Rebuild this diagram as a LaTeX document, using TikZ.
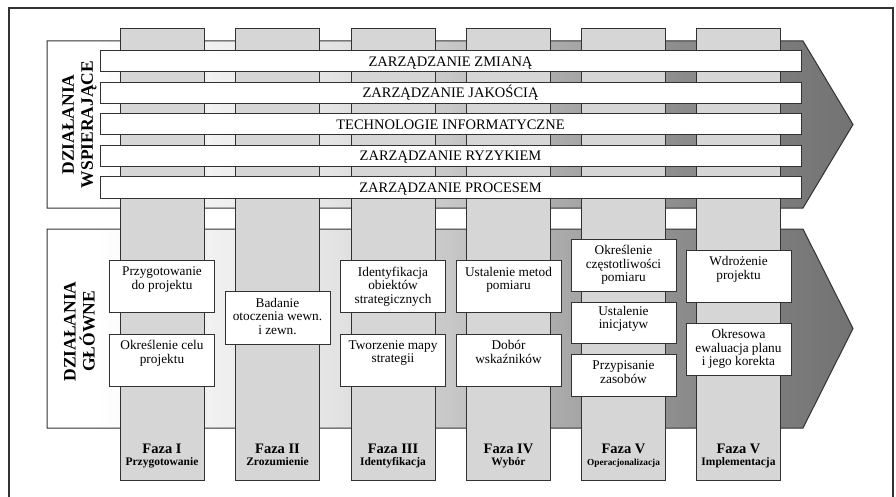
\documentclass[tikz,border=0pt]{standalone}
\usepackage{fontspec}
\setmainfont{Liberation Serif}
\usetikzlibrary{calc}
\definecolor{colfill}{RGB}{214,214,214}
\definecolor{edge}{RGB}{50,50,50}
\pgfdeclarehorizontalshading{arrowshade}{100bp}{color(0bp)=(white); color(28bp)=(white); color(35.7bp)=(black!6); color(42.9bp)=(black!11); color(50bp)=(black!22); color(57.2bp)=(black!34); color(64.3bp)=(black!45); color(71bp)=(black!52); color(75bp)=(black!55); color(100bp)=(black!55)}
\tikzset{
  x=1pt, y=-1pt,
  frame/.style={draw=edge, line width=1.1pt},
  arrowbody/.style={draw=edge, line width=1pt, shading=arrowshade},
  col/.style={draw=edge, fill=colfill, line width=1pt, minimum width=84pt, minimum height=451pt, inner sep=0pt},
  band/.style={draw=edge, fill=white, line width=1pt, minimum width=701pt, minimum height=21pt, inner sep=0pt},
  bandtext/.style={anchor=base, inner sep=0pt, font=\fontsize{14.5}{16}\selectfont},
  box/.style={draw=edge, fill=white, line width=1pt, minimum width=105pt, inner sep=0pt},
  btext/.style={anchor=north, inner sep=0pt, align=center, font=\fontsize{13.3}{13.6}\selectfont},
  side/.style={rotate=90, align=center, inner sep=0pt, font=\bfseries\fontsize{17.5}{19}\selectfont},
  phase/.style={anchor=base, inner sep=0pt, font=\bfseries\fontsize{14.5}{16}\selectfont},
  phasesub/.style={anchor=base, inner sep=0pt, font=\bfseries\fontsize{11.5}{13}\selectfont},
}
\begin{document}
\begin{tikzpicture}
\useasboundingbox (0,0) rectangle (896,497);
\fill[white] (0,0) rectangle (896,497);
% frame
\draw[frame] (9,497) -- (9,8) -- (893,8) -- (893,497);
% arrows
\draw[arrowbody] (47,41) -- (803,41) -- (853,124.5) -- (803,208) -- (47,208) -- cycle;
\draw[arrowbody] (47,229) -- (803,229) -- (853,328.5) -- (803,428) -- (47,428) -- cycle;
% columns
\node[col] (c1) at (162,254.5) {};
\node[col] (c2) at (277.5,254.5) {};
\node[col] (c3) at (393,254.5) {};
\node[col] (c4) at (508.5,254.5) {};
\node[col] (c5) at (623.5,254.5) {};
\node[col] (c6) at (738.5,254.5) {};
% bands
\node[band] (z1) at (450.5,61.5) {};
\node[band] (z2) at (450.5,93) {};
\node[band] (z3) at (450.5,124.5) {};
\node[band] (z4) at (450.5,156) {};
\node[band] (z5) at (450.5,187.5) {};
\node[bandtext] (z1t) at (450.5,66.3) {ZARZĄDZANIE ZMIANĄ};
\node[bandtext] (z2t) at (450.5,97.8) {ZARZĄDZANIE JAKOŚCIĄ};
\node[bandtext] (z3t) at (450.5,129.3) {TECHNOLOGIE INFORMATYCZNE};
\node[bandtext] (z4t) at (450.5,160.8) {ZARZĄDZANIE RYZYKIEM};
\node[bandtext] (z5t) at (450.5,192.3) {ZARZĄDZANIE PROCESEM};
% side labels
\node[side] (ws) at (79.5,124.5) {DZIAŁANIA\\WSPIERAJĄCE};
\node[side] (gl) at (79.5,331.5) {DZIAŁANIA\\GŁÓWNE};
% boxes
\node[box, minimum height=52pt] (b1a) at (162,286.7) {};
\node[box, minimum height=52pt] (b1b) at (162,360) {};
\node[box, minimum height=52.6pt] (b2) at (277.5,318) {};
\node[box, minimum height=52pt] (b3a) at (393,286.7) {};
\node[box, minimum height=52pt] (b3b) at (393,360) {};
\node[box, minimum height=52pt] (b4a) at (508.5,286.7) {};
\node[box, minimum height=52pt] (b4b) at (508.5,360) {};
\node[box, minimum height=52.4pt] (b5a) at (623.5,265.5) {};
\node[box, minimum height=41.3pt] (b5b) at (623.5,323.3) {};
\node[box, minimum height=41.7pt] (b5c) at (623.5,375.8) {};
\node[box, minimum height=52.3pt] (b6a) at (738.5,276.2) {};
\node[box, minimum height=52.4pt] (b6b) at (738.5,349.5) {};
\node[btext] (t1a) at ($(b1a.north)+(0,6.5)$) {Przygotowanie\\do projektu};
\node[btext] (t1b) at ($(b1b.north)+(0,6.5)$) {Określenie celu\\projektu};
\node[btext] (t2) at ($(b2.north)+(0,6.5)$) {Badanie\\otoczenia wewn.\\i zewn.};
\node[btext] (t3a) at ($(b3a.north)+(0,6.5)$) {Identyfikacja\\obiektów\\strategicznych};
\node[btext] (t3b) at ($(b3b.north)+(0,6.5)$) {Tworzenie mapy\\strategii};
\node[btext] (t4a) at ($(b4a.north)+(0,6.5)$) {Ustalenie metod\\pomiaru};
\node[btext] (t4b) at ($(b4b.north)+(0,6.5)$) {Dobór\\wskaźników};
\node[btext] (t5a) at ($(b5a.north)+(0,6.5)$) {Określenie\\częstotliwości\\pomiaru};
\node[btext] (t5b) at ($(b5b.north)+(0,3.5)$) {Ustalenie\\inicjatyw};
\node[btext] (t5c) at ($(b5c.north)+(0,6.5)$) {Przypisanie\\zasobów};
\node[btext] (t6a) at ($(b6a.north)+(0,6.5)$) {Wdrożenie\\projektu};
\node[btext] (t6b) at ($(b6b.north)+(0,6.5)$) {Okresowa\\ewaluacja planu\\i jego korekta};
% phase labels
\node[phase] (f1) at (162,453) {Faza I};
\node[phase] (f2) at (277.5,453) {Faza II};
\node[phase] (f3) at (393,453) {Faza III};
\node[phase] (f4) at (508.5,453) {Faza IV};
\node[phase] (f5) at (623.5,453) {Faza V};
\node[phase] (f6) at (738.5,453) {Faza V};
\node[phasesub] (s1) at (162,465) {Przygotowanie};
\node[phasesub] (s2) at (277.5,465) {Zrozumienie};
\node[phasesub] (s3) at (393,465) {Identyfikacja};
\node[phasesub] (s4) at (508.5,465) {Wybór};
\node[phasesub, font=\bfseries\fontsize{9.3}{11}\selectfont] (s5) at (623.5,465) {Operacjonalizacja};
\node[phasesub] (s6) at (738.5,465) {Implementacja};
\end{tikzpicture}
\end{document}
